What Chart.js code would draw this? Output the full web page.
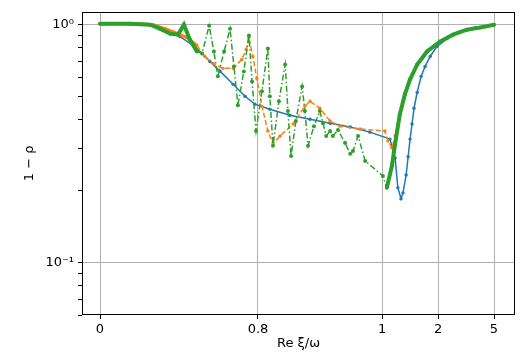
<!DOCTYPE html>
<html><head><meta charset="utf-8">
<script src="https://cdn.jsdelivr.net/npm/chart.js@4.4.0/dist/chart.umd.min.js"></script>
<style>html,body{margin:0;padding:0;background:#fff}#wrap{width:527px;height:359px}</style>
</head><body><div id="wrap"><canvas id="c" width="527" height="359"></canvas></div>
<script>
// x values are positions along the (non-uniform) horizontal axis: 0 = tick "0", 1 = tick "5"
const blueX=[0,0.076,0.127,0.165,0.203,0.241,0.279,0.305,0.338,0.368,0.393,0.431,0.482,0.533,0.584,0.635,0.685,0.736,0.749,0.756,0.764,0.769,0.777,0.782,0.787,0.792,0.797,0.805,0.815,0.825,0.838,0.855,0.881,0.914,0.952,1.0];
const blueY=[1.010,1.010,1.000,0.953,0.891,0.809,0.700,0.636,0.561,0.500,0.463,0.441,0.416,0.400,0.385,0.371,0.353,0.330,0.275,0.206,0.185,0.196,0.233,0.278,0.330,0.382,0.445,0.519,0.606,0.667,0.735,0.809,0.874,0.935,0.972,1.0];

const orangeX=[0,0.102,0.135,0.165,0.185,0.203,0.221,0.246,0.266,0.287,0.312,0.338,0.360,0.371,0.378,0.388,0.398,0.411,0.426,0.439,0.457,0.490,0.520,0.533,0.558,0.584,0.609,0.660,0.723,0.731,0.741,0.749,0.761,0.774,0.787,0.805,0.830,0.863,0.896,0.931,0.964,1.0];
const orangeY=[1.010,1.010,1.000,0.962,0.935,0.908,0.882,0.817,0.735,0.687,0.655,0.655,0.714,0.786,0.882,0.735,0.594,0.454,0.357,0.315,0.340,0.382,0.454,0.476,0.445,0.393,0.374,0.364,0.357,0.324,0.303,0.340,0.420,0.510,0.589,0.680,0.771,0.849,0.908,0.953,0.972,1.0];

const greenX=[0,0.076,0.127,0.152,0.178,0.198,0.213,0.228,0.246,0.259,0.277,0.289,0.299,0.315,0.330,0.340,0.350,0.365,0.378,0.386,0.396,0.411,0.426,0.431,0.439,0.454,0.470,0.477,0.485,0.497,0.513,0.520,0.528,0.543,0.558,0.566,0.574,0.584,0.591,0.604,0.622,0.635,0.642,0.655,0.673,0.718,0.728,0.741,0.749,0.761,0.774,0.787,0.805,0.830,0.863,0.896,0.931,0.964,1.0];
const greenY=[1.010,1.010,1.000,0.962,0.917,0.908,1.000,0.866,0.771,0.756,0.990,0.771,0.606,0.771,0.962,0.667,0.458,0.636,0.900,0.577,0.357,0.524,0.794,0.500,0.309,0.476,0.680,0.433,0.280,0.393,0.550,0.433,0.309,0.374,0.433,0.385,0.340,0.357,0.340,0.360,0.318,0.286,0.294,0.340,0.267,0.231,0.206,0.255,0.315,0.420,0.510,0.589,0.680,0.771,0.849,0.908,0.953,0.972,1.0];

const xTickPos=[0,0.401,0.716,0.858,1];
const xTickLabels=['0','0.8','1','2','5'];
const yTickVals=[0.06,0.07,0.08,0.09,0.1,0.2,0.3,0.4,0.5,0.6,0.7,0.8,0.9,1];
const yMajorVals=[0.1,1];
const yMajorLabels=['10\u207B\u00B9','10\u2070'];

const pts=(xs,ys)=>xs.map((x,i)=>({x:x,y:ys[i]}));
const FONT='DejaVu Sans';
const BLUE='#1f77b4',ORANGE='#ff7f0e',GREEN='#2ca02c';

const frame={id:'frame',afterDatasetsDraw(chart){const a=chart.chartArea,c=chart.ctx;c.save();c.strokeStyle='#000';c.lineWidth=1;c.strokeRect(Math.round(a.left)+0.5,Math.round(a.top)+0.5,Math.round(a.right-a.left)-1,Math.round(a.bottom-a.top)-1);c.restore();}};

const isMajorY=v=>yMajorVals.some(m=>Math.abs(m-v)<1e-9);

new Chart(document.getElementById('c'),{
  type:'line',
  data:{datasets:[
    {label:'blue',data:pts(blueX,blueY),borderColor:BLUE,backgroundColor:BLUE,borderWidth:1.5,pointRadius:1.7,pointBorderWidth:0,pointBackgroundColor:BLUE,order:2,fill:false,tension:0},
    {label:'orange',data:pts(orangeX,orangeY),borderColor:ORANGE,backgroundColor:ORANGE,borderWidth:1.5,pointRadius:1.7,pointBorderWidth:0,pointBackgroundColor:ORANGE,order:1,fill:false,tension:0,
      segment:{borderDash:c=>c.p1.parsed.x<=0.25?undefined:[5,2.5],borderWidth:c=>c.p1.parsed.x<=0.25?3:1.5}},
    {label:'green',data:pts(greenX,greenY),borderColor:GREEN,backgroundColor:GREEN,borderWidth:1.5,pointRadius:2,pointBorderWidth:0,pointBackgroundColor:GREEN,order:0,fill:false,tension:0,
      segment:{borderDash:c=>(c.p1.parsed.x<=0.25||c.p0.parsed.x>=0.727)?undefined:[6,2.5,1.5,2.5],borderWidth:c=>(c.p1.parsed.x<=0.25||c.p0.parsed.x>=0.727)?4:1.5}}
  ]},
  options:{
    responsive:false,animation:false,devicePixelRatio:1,
    layout:{padding:{top:10,right:12,left:0,bottom:0}},
    plugins:{legend:{display:false},tooltip:{enabled:false}},
    scales:{
      x:{type:'linear',min:-0.0457,max:1.0533,
        afterBuildTicks:s=>{s.ticks=xTickPos.map(v=>({value:v}));},
        afterFit:s=>{s.height=44;},
        grid:{color:'#b0b0b0',lineWidth:1,drawTicks:true,tickLength:4,tickColor:'#000'},
        border:{display:false},
        ticks:{autoSkip:false,maxRotation:0,padding:3,color:'#000',font:{family:FONT,size:13},
          callback:(v,i)=>xTickLabels[i]},
        title:{display:true,text:'Re \u03BE/\u03C9',color:'#000',font:{family:FONT,size:13},padding:{top:0,bottom:8}}
      },
      y:{type:'logarithmic',min:0.060,max:1.133,
        afterBuildTicks:s=>{s.ticks=yTickVals.map(v=>({value:v}));},
        afterFit:s=>{s.width=82;},
        grid:{color:c=>isMajorY(c.tick.value)?'#b0b0b0':'rgba(0,0,0,0)',lineWidth:1,drawTicks:true,tickLength:4,tickColor:'#000'},
        border:{display:false},
        ticks:{autoSkip:false,padding:4,color:'#000',font:{family:FONT,size:13},
          callback:(v)=>{const k=yMajorVals.findIndex(m=>Math.abs(m-v)<1e-9);return k>=0?yMajorLabels[k]:'';}},
        title:{display:true,text:'1 \u2212 \u03C1',color:'#000',font:{family:FONT,size:13},padding:{top:22,bottom:0}}
      }
    }
  },
  plugins:[frame]
});
</script></body></html>
